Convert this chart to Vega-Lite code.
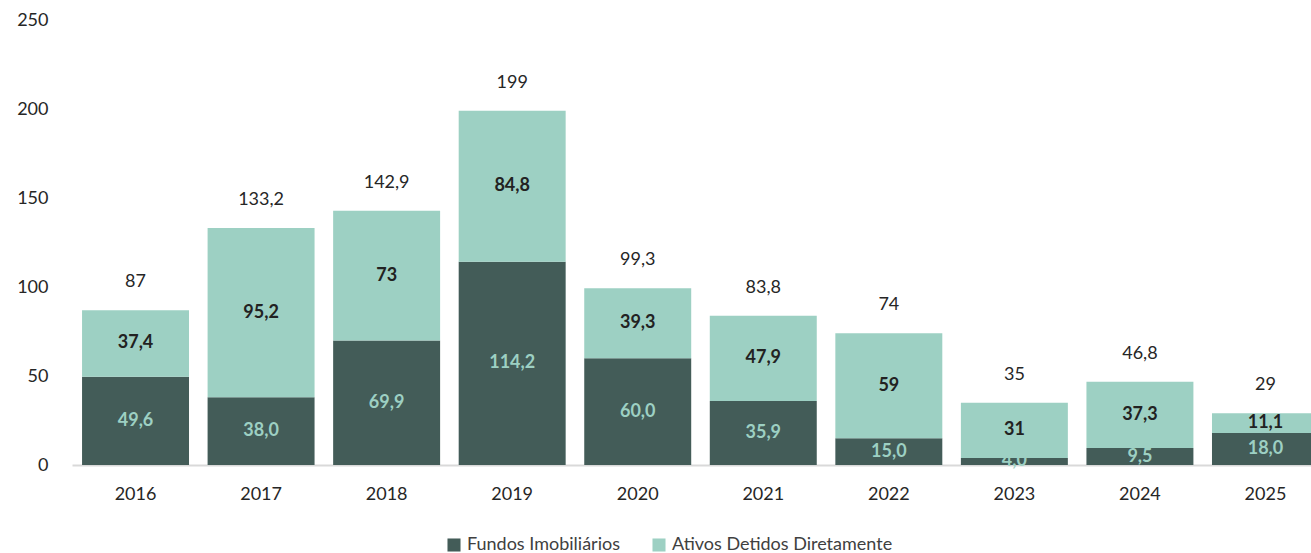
{
  "$schema": "https://vega.github.io/schema/vega-lite/v6.json",
  "autosize": "none",
  "width": 1257,
  "height": 445,
  "padding": {"left": 72, "top": 20, "right": 0, "bottom": 88},
  "background": "white",
  "config": {
    "font": "Lato",
    "view": {"stroke": null}
  },
  "datasets": {
    "parts": [
      {"year": "2016", "series": "Fundos Imobiliários", "value": 49.6, "label": "49,6"},
      {"year": "2016", "series": "Ativos Detidos Diretamente", "value": 37.4, "label": "37,4"},
      {"year": "2017", "series": "Fundos Imobiliários", "value": 38.0, "label": "38,0"},
      {"year": "2017", "series": "Ativos Detidos Diretamente", "value": 95.2, "label": "95,2"},
      {"year": "2018", "series": "Fundos Imobiliários", "value": 69.9, "label": "69,9"},
      {"year": "2018", "series": "Ativos Detidos Diretamente", "value": 73.0, "label": "73"},
      {"year": "2019", "series": "Fundos Imobiliários", "value": 114.2, "label": "114,2"},
      {"year": "2019", "series": "Ativos Detidos Diretamente", "value": 84.8, "label": "84,8"},
      {"year": "2020", "series": "Fundos Imobiliários", "value": 60.0, "label": "60,0"},
      {"year": "2020", "series": "Ativos Detidos Diretamente", "value": 39.3, "label": "39,3"},
      {"year": "2021", "series": "Fundos Imobiliários", "value": 35.9, "label": "35,9"},
      {"year": "2021", "series": "Ativos Detidos Diretamente", "value": 47.9, "label": "47,9"},
      {"year": "2022", "series": "Fundos Imobiliários", "value": 15.0, "label": "15,0"},
      {"year": "2022", "series": "Ativos Detidos Diretamente", "value": 59.0, "label": "59"},
      {"year": "2023", "series": "Fundos Imobiliários", "value": 4.0, "label": "4,0"},
      {"year": "2023", "series": "Ativos Detidos Diretamente", "value": 31.0, "label": "31"},
      {"year": "2024", "series": "Fundos Imobiliários", "value": 9.5, "label": "9,5"},
      {"year": "2024", "series": "Ativos Detidos Diretamente", "value": 37.3, "label": "37,3"},
      {"year": "2025", "series": "Fundos Imobiliários", "value": 18.0, "label": "18,0"},
      {"year": "2025", "series": "Ativos Detidos Diretamente", "value": 11.1, "label": "11,1"}
    ],
    "totals": [
      {"year": "2016", "total": 87, "label": "87"},
      {"year": "2017", "total": 133.2, "label": "133,2"},
      {"year": "2018", "total": 142.9, "label": "142,9"},
      {"year": "2019", "total": 199, "label": "199"},
      {"year": "2020", "total": 99.3, "label": "99,3"},
      {"year": "2021", "total": 83.8, "label": "83,8"},
      {"year": "2022", "total": 74, "label": "74"},
      {"year": "2023", "total": 35, "label": "35"},
      {"year": "2024", "total": 46.8, "label": "46,8"},
      {"year": "2025", "total": 29.1, "label": "29"}
    ]
  },
  "layer": [
    {
      "data": {"name": "parts"},
      "transform": [
        {"stack": "value", "groupby": ["year"], "sort": [{"field": "series", "order": "descending"}], "as": ["v0", "v1"]}
      ],
      "mark": {"type": "bar"},
      "encoding": {
        "x": {
          "field": "year", "type": "ordinal",
          "scale": {"paddingInner": 0.148, "paddingOuter": 0.08},
          "axis": {"title": null, "labelAngle": 0, "ticks": false, "labelPadding": 20, "labelFontSize": 18, "labelColor": "#262626", "labelFont": "Lato", "domainColor": "#d9d9d9", "domainWidth": 2}
        },
        "y": {
          "field": "v1", "type": "quantitative",
          "scale": {"domain": [0, 250], "nice": false, "zero": true},
          "axis": {"title": null, "values": [0, 50, 100, 150, 200, 250], "grid": false, "domain": false, "ticks": false, "labelPadding": 24, "labelFontSize": 18, "labelColor": "#262626", "labelFont": "Lato"}
        },
        "y2": {"field": "v0"},
        "color": {
          "field": "series", "type": "nominal",
          "scale": {"domain": ["Fundos Imobiliários", "Ativos Detidos Diretamente"], "range": ["#435c58", "#9dd0c3"]},
          "legend": {"title": null, "orient": "none", "legendX": 373, "legendY": 516, "direction": "horizontal", "symbolType": "square", "symbolSize": 170, "symbolOpacity": 1, "symbolStrokeWidth": 0, "labelFontSize": 18, "labelColor": "#404040", "labelFont": "Lato", "labelLimit": 400, "columnPadding": 30, "labelOffset": 4}
        }
      }
    },
    {
      "data": {"name": "parts"},
      "transform": [
        {"stack": "value", "groupby": ["year"], "sort": [{"field": "series", "order": "descending"}], "as": ["v0", "v1"]},
        {"calculate": "(datum.v0 + datum.v1) / 2", "as": "mid"}
      ],
      "mark": {"type": "text", "fontSize": 18, "fontWeight": "bold", "baseline": "middle", "font": "Lato"},
      "encoding": {
        "x": {"field": "year", "type": "ordinal"},
        "y": {"field": "mid", "type": "quantitative"},
        "text": {"field": "label"},
        "color": {
          "field": "series", "type": "nominal",
          "scale": {"domain": ["Fundos Imobiliários", "Ativos Detidos Diretamente"], "range": ["#9dd0c3", "#222222"]},
          "legend": null
        }
      }
    },
    {
      "data": {"name": "totals"},
      "mark": {"type": "text", "fontSize": 18, "baseline": "middle", "dy": -28, "color": "#262626", "font": "Lato"},
      "encoding": {
        "x": {"field": "year", "type": "ordinal"},
        "y": {"field": "total", "type": "quantitative"},
        "text": {"field": "label"}
      }
    }
  ],
  "resolve": {"scale": {"color": "independent"}}
}
